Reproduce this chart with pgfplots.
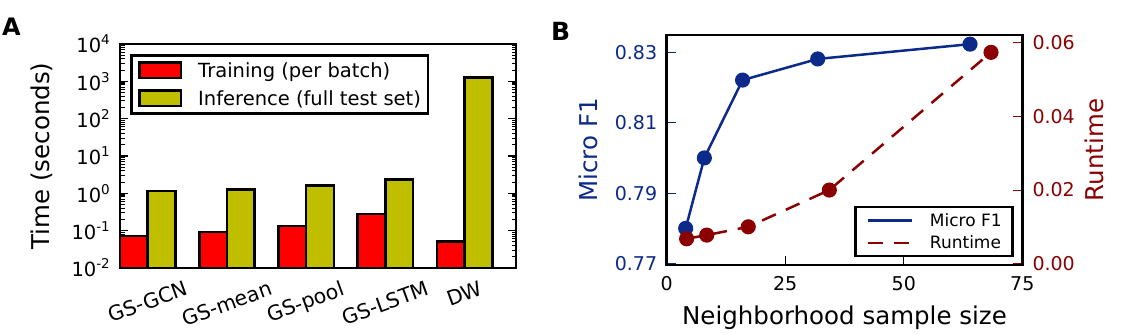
\documentclass[border=0pt]{standalone}
\usepackage{fontspec}
\setmainfont{DejaVu Sans}
\usepackage{graphicx}
\usepackage{pgfplots}
\pgfplotsset{compat=1.18}
\definecolor{barred}{RGB}{255,0,0}
\definecolor{barolive}{RGB}{191,191,0}
\definecolor{fblue}{RGB}{11,42,138}
\definecolor{rred}{RGB}{139,0,0}
\newcommand{\tp}[1]{10\raisebox{8pt}{\fontsize{13.5}{14}\selectfont #1}}
\newcommand{\rl}[1]{\rotatebox{20}{#1}}
\begin{document}
\begin{tikzpicture}[x=1pt,y=1pt]
\useasboundingbox (0,0) rectangle (1129,334);
\node[anchor=base west, inner sep=0pt, font=\fontsize{24}{24}\selectfont\bfseries] at (2,298) {A};
\node[anchor=base west, inner sep=0pt, font=\fontsize{25}{25}\selectfont\bfseries] at (551,293.3) {B};

% ---------------- Panel A ----------------
\begin{axis}[
  at={(120pt,66pt)}, anchor=south west, scale only axis,
  width=396pt, height=224pt,
  xmin=0, xmax=5,
  ymode=log, ymin=0.01, ymax=10000, log origin=infty,
  axis line style={line width=2.6pt},
  tick align=inside,
  major tick length=8pt, minor tick length=4.5pt,
  every tick/.style={black, line width=1.1pt},
  ytick pos=both,
  ytick={0.01,0.1,1,10,100,1000,10000},
  yticklabels={\tp{-2},\tp{-1},\tp{0},\tp{1},\tp{2},\tp{3},\tp{4}},
  minor ytick={0.02,0.03,0.04,0.05,0.06,0.07,0.08,0.09,
               0.2,0.3,0.4,0.5,0.6,0.7,0.8,0.9,
               2,3,4,5,6,7,8,9,
               20,30,40,50,60,70,80,90,
               200,300,400,500,600,700,800,900,
               2000,3000,4000,5000,6000,7000,8000,9000},
  yticklabel style={font=\fontsize{19.5}{20}\selectfont, inner sep=0pt, anchor=east},
  yticklabel shift=10pt,
  xtick={0.35,1.35,2.35,3.35,4.35},
  xticklabels={\rl{GS-GCN},\rl{GS-mean},\rl{GS-pool},\rl{GS-LSTM},\rl{DW}},
  xticklabel style={font=\fontsize{20.5}{21}\selectfont, inner sep=0pt, anchor=north},
  xticklabel shift=12pt,
  x tick style={draw=none},
  ylabel={Time (seconds)},
  ylabel style={font=\fontsize{24.5}{25}\selectfont, at={(axis description cs:-0.1768,0.5)}, anchor=base, inner sep=0pt},
  legend style={at={(axis description cs:0.0253,0.955)}, anchor=north west,
    draw=black, line width=2.6pt, fill=white,
    font=\fontsize{19.5}{20}\selectfont,
    inner xsep=7pt, inner ysep=6pt,
    row sep=10pt, column sep=16pt,
    cells={anchor=west},
    nodes={inner sep=0pt}},
  legend image code/.code={\draw[#1] (0pt,-7.7pt) rectangle (41.3pt,7.7pt);},
]
\addplot[ybar, bar width=0.35, bar shift=0pt, fill=barred, draw=black, line width=2.6pt]
  coordinates {(0.175,0.072) (1.175,0.092) (2.175,0.133) (3.175,0.28) (4.175,0.052)};
\addlegendentry{Training (per batch)}
\addplot[ybar, bar width=0.35, bar shift=0pt, fill=barolive, draw=black, line width=2.6pt]
  coordinates {(0.525,1.16) (1.525,1.28) (2.525,1.64) (3.525,2.37) (4.525,1253)};
\addlegendentry{Inference (full test set)}
\end{axis}

% ---------------- Panel B ----------------
\begin{axis}[
  at={(666.7pt,69pt)}, anchor=south west, scale only axis,
  width=355.6pt, height=230pt,
  xmin=0, xmax=75, ymin=0.7696, ymax=0.8349,
  axis line style={line width=2.6pt},
  tick align=inside, major tick length=9pt,
  xtick={0,25,50,75}, xticklabels={0,25,50,75}, xtick pos=bottom,
  ytick={0.77,0.79,0.81,0.83}, yticklabels={0.77,0.79,0.81,0.83}, ytick pos=left,
  x tick style={black, line width=1.1pt},
  y tick style={fblue, line width=1.1pt},
  yticklabel style={text=fblue, font=\fontsize{19}{20}\selectfont, inner sep=0pt, anchor=east},
  yticklabel shift=9.4pt,
  xticklabel style={font=\fontsize{19}{20}\selectfont, inner sep=0pt, anchor=north},
  xticklabel shift=11pt,
  xlabel={Neighborhood sample size},
  xlabel style={font=\fontsize{24.5}{25}\selectfont, at={(axis description cs:0.5,-0.2587)}, anchor=base, inner sep=0pt},
  ylabel={Micro F1},
  ylabel style={text=fblue, font=\fontsize{24.5}{25}\selectfont, at={(axis description cs:-0.196,0.5)}, anchor=base, inner sep=0pt},
]
\addplot[fblue, line width=2.5pt, mark=*, mark size=6.3pt, mark options={solid, fill=fblue, draw=fblue}]
  coordinates {(4,0.7800) (7.94,0.8000) (16,0.8221) (31.85,0.8281) (63.97,0.8323)};
\end{axis}

\begin{axis}[
  at={(666.7pt,69pt)}, anchor=south west, scale only axis,
  width=355.6pt, height=230pt,
  xmin=0, xmax=75, ymin=-0.0003, ymax=0.062,
  scaled y ticks=false,
  hide x axis,
  axis y line*=right,
  axis line style={line width=2.6pt},
  tick align=inside, major tick length=9pt,
  ytick={0,0.02,0.04,0.06}, yticklabels={0.00,0.02,0.04,0.06},
  y tick style={rred, line width=1.1pt},
  yticklabel style={text=rred, font=\fontsize{19}{20}\selectfont, inner sep=0pt, anchor=west},
  yticklabel shift=10pt,
  ylabel={Runtime},
  ylabel style={text=rred, font=\fontsize{24.5}{25}\selectfont, at={(axis description cs:1.227,0.5)}, anchor=base, inner sep=0pt},
  legend style={at={(axis description cs:0.9767,0.0335)}, anchor=south east,
    draw=black, line width=2.6pt, fill=white,
    font=\fontsize{17}{18}\selectfont,
    inner xsep=11pt, inner ysep=6pt,
    row sep=8pt, column sep=17pt,
    cells={anchor=west},
    nodes={inner sep=0pt}},
  legend image code/.code={\draw[#1] (0pt,0pt) -- (44pt,0pt);},
]
\addlegendimage{fblue, line width=2.5pt}
\addlegendentry{Micro F1}
\addplot[rred, line width=2.5pt, dash pattern=on 15pt off 11pt, mark=*, mark size=6.3pt, mark options={solid, fill=rred, draw=rred}]
  coordinates {(4.2,0.0068) (8.44,0.0078) (17.2,0.01005) (34.3,0.0200) (68.4,0.0573)};
\addlegendentry{Runtime}
\end{axis}
\end{tikzpicture}
\end{document}
